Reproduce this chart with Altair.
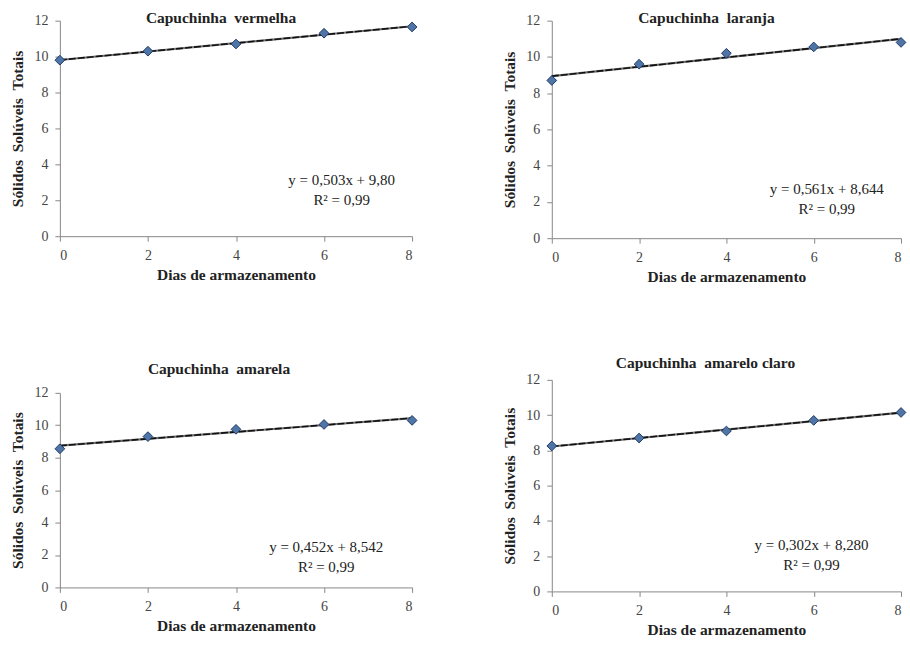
import altair as alt
import pandas as pd

# ---- data ----
dias = [0, 2, 4, 6, 8]
titulos = ["Capuchinha\u00a0\u00a0vermelha", "Capuchinha\u00a0\u00a0laranja",
           "Capuchinha\u00a0\u00a0amarela", "Capuchinha\u00a0\u00a0amarelo claro"]
ss_vermelha = [9.8, 10.3, 10.7, 11.3, 11.65]
ss_laranja = [8.7, 9.6, 10.2, 10.55, 10.8]
ss_amarela = [8.55, 9.3, 9.75, 10.05, 10.3]
ss_amarelo_claro = [8.25, 8.7, 9.1, 9.7, 10.15]
equacoes = ["y = 0,503x + 9,80", "y = 0,561x + 8,644",
            "y = 0,452x + 8,542", "y = 0,302x + 8,280"]
r2_txt = ["R² = 0,99", "R² = 0,99", "R² = 0,99", "R² = 0,99"]
eq_x = [6.4, 6.3, 6.05, 5.95]
eq_y = [3.1, 2.7, 2.5, 2.65]
r2_y = [2.0, 1.6, 1.25, 1.5]
y_ticks = [0, 2, 4, 6, 8, 10, 12]

FONT = "Times New Roman, Liberation Serif, serif"


def panel(i, ys, w, h, title_offset, title_dx):
    df = pd.DataFrame({"dias": dias, "sst": ys})
    xenc = alt.X("dias:Q", scale=alt.Scale(domain=[0, 8], nice=False),
                 axis=alt.Axis(values=dias, title="Dias de armazenamento",
                               tickSize=5, labelPadding=7, titlePadding=5,
                               labelOverlap=False))
    yenc = alt.Y("sst:Q", scale=alt.Scale(domain=[0, 12], nice=False),
                 axis=alt.Axis(values=y_ticks,
                               title="Sólidos\u00a0\u00a0Solúveis\u00a0\u00a0Totais",
                               tickSize=5, labelPadding=7, titlePadding=8,
                               labelOverlap=False))
    base = alt.Chart(df)
    trend_bg = base.transform_regression("dias", "sst").mark_line(
        color="#777777", strokeWidth=2.2).encode(x=xenc, y=yenc)
    trend = base.transform_regression("dias", "sst").mark_line(
        color="#111111", strokeWidth=1.6, strokeDash=[7, 2]).encode(x=xenc, y=yenc)
    pts = base.mark_point(shape="diamond", filled=True, size=95, color="#4f74a6",
                          stroke="#1f3b66", strokeWidth=1, opacity=1).encode(
        x=xenc, y=yenc)
    eq = pd.DataFrame({"dias": [eq_x[i], eq_x[i]], "sst": [eq_y[i], r2_y[i]],
                       "t": [equacoes[i], r2_txt[i]]})
    txt = alt.Chart(eq).mark_text(font=FONT, fontSize=15, color="#222222").encode(
        x=xenc, y=yenc, text="t:N")
    return alt.layer(trend_bg, trend, pts, txt).properties(
        width=w, height=h,
        title=alt.Title(titulos[i], offset=title_offset, dx=title_dx, font=FONT,
                        fontSize=15.5, fontWeight="bold", color="#222222"))


p1 = panel(0, ss_vermelha, 353, 216, -13, -15)
p2 = panel(1, ss_laranja, 350, 218, -13, -20)
p3 = panel(2, ss_amarela, 353, 195, 8, -17)
p4 = panel(3, ss_amarelo_claro, 350, 212, 1, -21)

chart = alt.hconcat(
    alt.vconcat(p1, p3, spacing=79),
    alt.vconcat(p2, p4, spacing=71),
    spacing=84,
).properties(
    padding={"left": 11, "top": 10, "right": 2, "bottom": 2}
).configure_view(stroke=None).configure_axis(
    grid=False, domainColor="#888888", tickColor="#888888",
    labelFont=FONT, labelFontSize=14, labelColor="#444444",
    titleFont=FONT, titleFontSize=15.5, titleFontWeight="bold", titleColor="#222222",
)

chart.save("out.html", embed_options={"renderer": "svg", "actions": False})
